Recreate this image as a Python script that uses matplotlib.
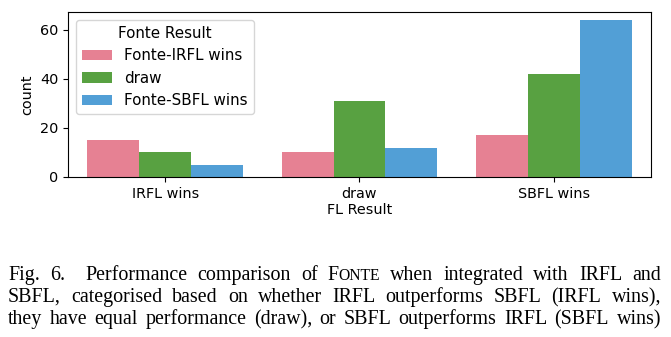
import matplotlib
matplotlib.use("Agg")
import matplotlib.pyplot as plt
import seaborn as sns
import pandas as pd

fl_result = ["IRFL wins", "draw", "SBFL wins"]
fonte_result = ["Fonte-IRFL wins", "draw", "Fonte-SBFL wins"]
# counts per FL result, one list per Fonte result
fonte_irfl_wins = [15, 10, 17]
fonte_draw = [10, 31, 42]
fonte_sbfl_wins = [5, 12, 64]

rows = []
for i, fl in enumerate(fl_result):
    for name, vals in zip(fonte_result, [fonte_irfl_wins, fonte_draw, fonte_sbfl_wins]):
        rows.append({"FL Result": fl, "Fonte Result": name, "count": vals[i]})
df = pd.DataFrame(rows)

fig = plt.figure(figsize=(6.71, 3.37), dpi=100)
ax = fig.add_axes([68 / 671, 1 - 177 / 337, (651 - 68) / 671, (177 - 12) / 337])

fs = 10.4
sns.barplot(data=df, x="FL Result", y="count", hue="Fonte Result",
            order=fl_result, hue_order=fonte_result, palette="husl",
            saturation=0.75, ax=ax)
ax.set_ylim(0, 67.2)
ax.set_yticks([0, 20, 40, 60])
ax.tick_params(labelsize=fs)
ax.set_xlabel("FL Result", fontsize=fs, labelpad=2)
ax.set_ylabel("count", fontsize=fs)
leg = ax.legend(title="Fonte Result", loc="upper left", fontsize=10.9,
                title_fontsize=10.9)

# caption, justified line by line ("" = extra space after the figure number)
cap_size = 14.4
serif = "Liberation Serif"
lines = [
    ["Fig.", "6.", "", "Performance", "comparison", "of", "FONTE", "when", "integrated",
     "with", "IRFL", "and"],
    ["SBFL,", "categorised", "based", "on", "whether", "IRFL", "outperforms", "SBFL",
     "(IRFL", "wins),"],
    ["they", "have", "equal", "performance", "(draw),", "or", "SBFL", "outperforms",
     "IRFL", "(SBFL", "wins)"],
]
baselines = [280, 302, 324]
x_left, x_right = 8, 661
W, H = 671, 337
renderer = fig.canvas.get_renderer()


def word_parts(w):
    if w == "FONTE":
        return [("F", cap_size), ("ONTE", cap_size * 0.78)]
    return [(w, cap_size)]


for words, yb in zip(lines, baselines):
    items = []
    total = 0
    for w in words:
        parts = []
        width = 0
        for s, size in word_parts(w):
            t = fig.text(0, 0, s, fontsize=size, family=serif, va="baseline")
            ext = t.get_window_extent(renderer) if s else None
            parts.append((t, width))
            width += ext.width if ext is not None else 0
        items.append((parts, width))
        total += width
    gap = (x_right - x_left - total) / (len(items) - 1)
    x = x_left
    for parts, width in items:
        for t, off in parts:
            t.set_position(((x + off) / W, 1 - yb / H))
        x += width + gap

fig.savefig("out.png", dpi=100)
